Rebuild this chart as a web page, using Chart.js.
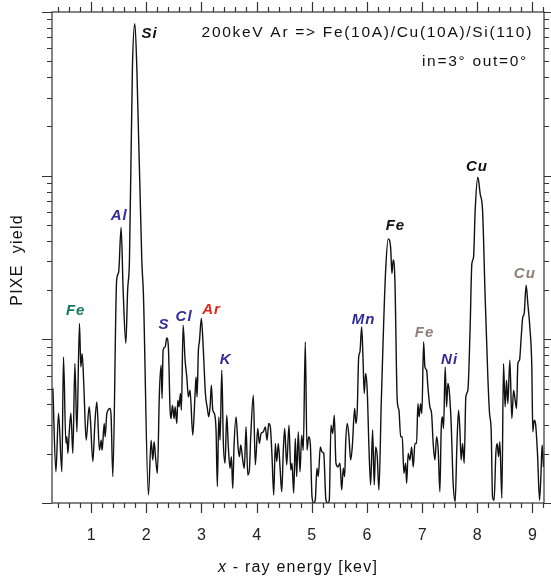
<!DOCTYPE html>
<html>
<head>
<meta charset="utf-8">
<script src="https://cdn.jsdelivr.net/npm/chart.js@4.4.1/dist/chart.umd.min.js"></script>
<style>
  html, body { margin: 0; padding: 0; background: #fff; }
  canvas { display: block; }
</style>
</head>
<body>
<canvas id="chart" width="551" height="583"></canvas>
<script>
// PIXE spectrum
const energy = [
  0.306,0.361,0.408,0.469,0.498,0.542,0.560,0.578,0.601,0.632,
  0.668,0.705,0.741,0.788,0.813,0.837,0.868,0.909,0.964,0.987,
  1.031,1.067,1.103,1.150,1.181,1.199,1.236,1.254,1.284,1.344,
  1.362,1.393,1.462,1.498,1.543,1.580,1.629,1.661,1.694,1.748,
  1.792,1.828,1.918,1.947,2.038,2.087,2.118,2.141,2.172,2.201,
  2.237,2.268,2.286,2.304,2.341,2.371,2.400,2.431,2.449,2.473,
  2.504,2.522,2.553,2.571,2.594,2.618,2.636,2.667,2.703,2.734,
  2.763,2.793,2.842,2.884,2.902,2.920,2.944,2.962,2.998,3.034,
  3.071,3.107,3.132,3.156,3.179,3.205,3.234,3.264,3.288,3.313,
  3.337,3.368,3.397,3.428,3.458,3.487,3.518,3.542,3.567,3.591,
  3.627,3.663,3.687,3.712,3.748,3.777,3.808,3.839,3.868,3.893,
  3.940,3.976,4.020,4.049,4.080,4.121,4.158,4.188,4.219,4.248,
  4.279,4.310,4.339,4.364,4.393,4.424,4.455,4.484,4.509,4.545,
  4.587,4.618,4.641,4.672,4.701,4.726,4.755,4.786,4.817,4.846,
  4.882,4.913,4.944,4.973,5.004,5.034,5.063,5.094,5.118,5.154,
  5.185,5.216,5.257,5.293,5.317,5.348,5.379,5.408,5.438,5.475,
  5.511,5.542,5.571,5.596,5.614,5.643,5.674,5.705,5.734,5.777,
  5.801,5.824,5.850,5.873,5.904,5.928,5.951,5.976,6.005,6.036,
  6.067,6.103,6.132,6.158,6.187,6.217,6.259,6.295,6.339,6.386,
  6.429,6.453,6.476,6.507,6.549,6.580,6.611,6.640,6.670,6.701,
  6.719,6.748,6.779,6.810,6.839,6.870,6.900,6.924,6.947,6.973,
  6.996,7.027,7.051,7.082,7.105,7.141,7.172,7.201,7.232,7.263,
  7.292,7.322,7.346,7.371,7.389,7.418,7.444,7.467,7.491,7.527,
  7.563,7.600,7.630,7.661,7.685,7.708,7.734,7.763,7.793,7.830,
  7.871,7.902,7.933,7.962,8.011,8.053,8.096,8.143,8.192,8.223,
  8.252,8.277,8.306,8.337,8.361,8.386,8.409,8.446,8.476,8.505,
  8.531,8.554,8.591,8.627,8.658,8.687,8.712,8.736,8.766,8.795,
  8.826,8.850,8.886,8.917,8.953,8.989,9.007,9.031,9.056,9.092,
  9.129,9.158,9.176,9.201
];

const pixeYield = [
  5.02,1.55,3.54,1.55,7.80,2.32,2.54,2.01,2.66,3.54,
  2.01,7.11,2.72,12.5,6.78,8.18,5.12,2.42,3.87,3.21,
  1.79,3.06,4.15,2.10,2.42,2.10,3.06,2.54,3.52,3.78,
  3.36,1.45,22.9,25.7,48.2,19.9,9.45,19.9,30.3,457,
  849,457,30.3,19.0,1.12,2.42,1.83,2.37,1.83,1.52,
  4.67,6.94,4.35,8.57,8.98,10.2,8.98,3.69,3.28,3.96,
  3.28,3.87,3.06,4.25,3.87,4.67,3.69,12.2,7.45,5.89,
  4.45,4.89,2.60,4.67,5.89,4.45,8.57,9.63,13.4,8.57,
  4.67,3.78,3.36,3.87,5.24,3.69,3.52,2.79,1.26,3.36,
  2.42,6.47,2.31,1.75,3.44,2.20,1.63,1.92,1.23,2.26,
  3.36,2.20,1.92,2.26,1.83,1.63,2.92,1.48,1.59,2.54,
  4.56,1.71,2.85,2.31,2.66,2.72,2.92,2.42,3.06,2.92,
  1.92,1.12,2.31,1.79,2.31,1.66,1.17,2.10,2.85,1.71,
  2.99,1.59,1.75,1.15,2.48,1.45,2.72,1.55,2.60,2.10,
  9.63,2.10,2.54,2.31,1.09,1.00,1.04,1.63,1.45,2.20,
  2.05,2.01,1.04,1.00,1.04,2.99,2.66,3.44,1.75,1.66,
  1.75,1.20,1.63,1.45,2.31,3.06,2.54,1.83,2.20,3.78,
  3.06,3.69,7.80,8.37,11.9,7.80,4.67,6.18,4.89,2.20,
  1.29,2.79,1.29,2.20,1.92,1.20,4.05,10.3,26.4,41.1,
  36.5,25.2,30.6,22.9,4.25,3.69,2.54,2.54,1.52,1.75,
  1.32,2.01,1.83,2.20,1.66,2.31,2.31,4.05,3.36,4.05,
  3.52,9.63,6.78,6.47,5.12,3.87,3.52,2.31,1.83,2.54,
  2.10,1.17,2.79,3.36,2.85,6.78,3.87,5.37,4.89,3.06,
  1.32,1.02,2.20,3.69,2.79,1.83,2.31,1.75,4.45,4.89,
  11.9,28.9,31.8,61.2,97.7,77.3,61.2,18.1,5.89,3.52,
  2.79,1.09,1.04,2.01,2.31,1.92,2.37,1.07,7.11,3.87,
  5.62,4.05,7.45,3.28,4.89,4.25,3.78,7.11,7.45,10.1,
  13.7,14.3,21.4,16.5,11.9,6.78,2.72,3.21,3.06,2.01,
  1.04,1.59,2.26,1.66
];

// peak labels (placed in data coordinates)
const peakNames  = ['Si', 'Al', 'Fe', 'S', 'Cl', 'Ar', 'K', 'Mn', 'Fe', 'Fe', 'Ni', 'Cu', 'Cu'];
const peakEnergy = [2.06, 1.507, 0.719, 2.322, 2.685, 3.183, 3.437, 5.937, 6.516, 7.045, 7.498, 7.993, 8.862];
const peakYield  = [739, 57.0, 15.0, 12.3, 13.8, 15.2, 7.45, 13.2, 49.6, 11.0, 7.45, 113, 25.1];
const peakColors = ['#111', '#332c98', '#16795a', '#332c98', '#332c98', '#e5261c', '#332c98',
                    '#332c98', '#111', '#8f7e78', '#332c98', '#111', '#8f7e78'];

const xTicks = [1, 2, 3, 4, 5, 6, 7, 8, 9];

const FONT = 'Arial, "Liberation Sans", sans-serif';

const decorations = {
    id: 'decorations',
    afterDraw(chart) {
        const { ctx, chartArea: a, scales: { x, y } } = chart;
        ctx.save();
        ctx.strokeStyle = '#333';
        ctx.lineWidth = 1.2;
        ctx.strokeRect(a.left, a.top, a.right - a.left, a.bottom - a.top);

        // x ticks every 0.2, long ones at whole keV
        ctx.beginPath();
        for (let i = 1; i <= 50; i++) {
            const v = i / 5;
            if (v < x.min || v > x.max) continue;
            const len = i % 5 === 0 ? 10 : 5;
            const px = Math.round(x.getPixelForValue(v)) + 0.5;
            ctx.moveTo(px, a.bottom); ctx.lineTo(px, a.bottom + len);
            ctx.moveTo(px, a.top); ctx.lineTo(px, a.top - len);
        }
        // log y ticks
        for (let d = 1; d <= 1000; d *= 10) {
            for (let m = 1; m <= 9; m++) {
                const v = d * m;
                if (v > y.max) break;
                const len = m === 1 ? 10 : 5;
                const py = Math.round(y.getPixelForValue(v)) + 0.5;
                ctx.moveTo(a.left - len, py); ctx.lineTo(a.left, py);
                ctx.moveTo(a.right, py); ctx.lineTo(a.right + len, py);
            }
        }
        ctx.stroke();

        // peak labels
        ctx.font = `italic bold 15px ${FONT}`;
        ctx.textAlign = 'center';
        ctx.textBaseline = 'middle';
        ctx.letterSpacing = '1px';
        peakNames.forEach((name, i) => {
            ctx.fillStyle = peakColors[i];
            ctx.fillText(name, x.getPixelForValue(peakEnergy[i]), y.getPixelForValue(peakYield[i]));
        });

        // info text
        ctx.fillStyle = '#111';
        ctx.font = `15.5px ${FONT}`;
        ctx.textAlign = 'right';
        ctx.letterSpacing = '1.7px';
        ctx.fillText('200keV Ar => Fe(10A)/Cu(10A)/Si(110)', 533, 33);
        ctx.fillText('in=3° out=0°', 528, 62);

        // x axis title, "x" in italics
        ctx.letterSpacing = '1.2px';
        ctx.textAlign = 'left';
        ctx.font = `16px ${FONT}`;
        const rest = ' - ray energy [kev]';
        const wRest = ctx.measureText(rest).width;
        ctx.font = `italic 16px ${FONT}`;
        const wX = ctx.measureText('x').width;
        const startX = 298 - (wX + wRest) / 2;
        ctx.fillText('x', startX, 568);
        ctx.font = `16px ${FONT}`;
        ctx.fillText(rest, startX + wX, 568);

        // y axis title
        ctx.translate(18, 260);
        ctx.rotate(-Math.PI / 2);
        ctx.textAlign = 'center';
        ctx.fillText('PIXE  yield', 0, 0);
        ctx.restore();
    }
};

new Chart(document.getElementById('chart'), {
    type: 'line',
    data: {
        datasets: [{
            data: energy.map((e, i) => ({ x: e, y: pixeYield[i] })),
            borderColor: '#111',
            borderWidth: 1.4,
            pointRadius: 0,
            cubicInterpolationMode: 'monotone',
            fill: false
        }]
    },
    options: {
        responsive: false,
        animation: false,
        devicePixelRatio: 1,
        layout: { padding: { left: 0, right: 7, top: 12, bottom: 0 } },
        plugins: { legend: { display: false }, tooltip: { enabled: false } },
        scales: {
            x: {
                type: 'linear',
                min: 0.29,
                max: 9.21,
                grid: { display: false, drawTicks: false },
                border: { display: false },
                afterBuildTicks: (scale) => { scale.ticks = xTicks.map(v => ({ value: v })); },
                afterFit: (scale) => {
                    scale.height = 80;
                    scale.paddingLeft = 0;
                    scale.paddingRight = 0;
                },
                ticks: {
                    padding: 23,
                    color: '#222',
                    font: { family: FONT, size: 16 },
                    maxRotation: 0,
                    autoSkip: false
                }
            },
            y: {
                type: 'logarithmic',
                min: 1,
                max: 1000,
                grid: { display: false, drawTicks: false },
                border: { display: false },
                ticks: { display: false },
                afterFit: (scale) => { scale.width = 52; }
            }
        }
    },
    plugins: [decorations]
});
</script>
</body>
</html>
